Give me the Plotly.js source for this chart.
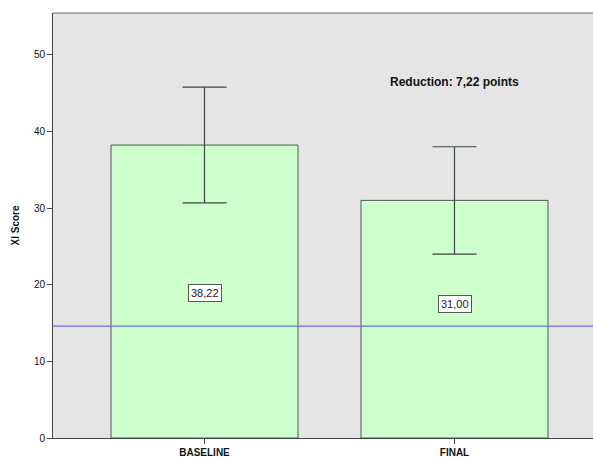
<!DOCTYPE html>
<html>
<head>
<meta charset="utf-8">
<script src="https://cdn.plot.ly/plotly-3.0.1.min.js"></script>
<style>html,body{margin:0;padding:0;background:#fff;}#chart{width:593px;height:458px;}</style>
</head>
<body>
<div id="chart"></div>
<script>
var categories = ["BASELINE", "FINAL"];
var means = [38.22, 31.00];
var errors = [7.55, 7.0];
var refLine = 14.6;
var labelY = [18.9, 17.5];
var noteText = "Reduction: 7,22 points";
var noteX = 1.0;
var noteY = 46.5;

var trace = {
  type: "bar",
  x: categories.map(function(c, i){ return i; }),
  y: means,
  width: 0.748,
  marker: {color: "#ccffcc", line: {color: "#4d5a4d", width: 1}},
  error_y: {type: "data", array: errors, visible: true, color: "#3a4a3a", thickness: 1.2, width: 22},
  hoverinfo: "none"
};

var annotations = means.map(function(v, i){
  return {x: i, y: labelY[i], xref: "x", yref: "y", text: v.toFixed(2).replace(".", ","),
    showarrow: false, bgcolor: "#ffffff", bordercolor: "#555555", borderwidth: 1, borderpad: 2,
    font: {family: "Liberation Sans, Arial, sans-serif", size: 11, color: "#222"}};
});
annotations.push({x: noteX, y: noteY, xref: "x", yref: "y", text: "<b>" + noteText + "</b>",
  showarrow: false, font: {family: "Liberation Sans, Arial, sans-serif", size: 12, color: "#111"}});

var layout = {
  width: 593, height: 458,
  margin: {l: 53, r: 0, t: 13, b: 20},
  paper_bgcolor: "#ffffff",
  plot_bgcolor: "#e5e5e5",
  showlegend: false,
  font: {family: "Liberation Sans, Arial, sans-serif", size: 10, color: "#222"},
  xaxis: {
    range: [-0.606, 1.554],
    tickmode: "array", tickvals: [0, 1], ticktext: categories.map(function(c){ return "<b>" + c + "</b>"; }),
    ticks: "outside", ticklen: 5, tickcolor: "#444", showgrid: false, zeroline: false,
    showline: true, linecolor: "#444", linewidth: 1,
    tickfont: {size: 10, color: "#111"}
  },
  yaxis: {
    range: [0, 55.45],
    tickvals: [0, 10, 20, 30, 40, 50],
    ticks: "outside", ticklen: 5, tickcolor: "#444", showgrid: false, zeroline: false,
    showline: true, linecolor: "#444", linewidth: 1, mirror: false,
    tickfont: {size: 10, color: "#111"},
    title: {text: "<b>Xl Score</b>", font: {size: 10, color: "#111"}, standoff: 12}
  },
  shapes: [
    {type: "line", xref: "paper", yref: "y", x0: 0, x1: 1, y0: refLine, y1: refLine,
      line: {color: "#6a6af0", width: 1.2}},
    {type: "line", xref: "paper", yref: "paper", x0: 0, x1: 1, y0: 1, y1: 1,
      line: {color: "#666", width: 1}}
  ],
  annotations: annotations
};

Plotly.newPlot("chart", [trace], layout, {displayModeBar: false, staticPlot: true});
</script>
</body>
</html>
